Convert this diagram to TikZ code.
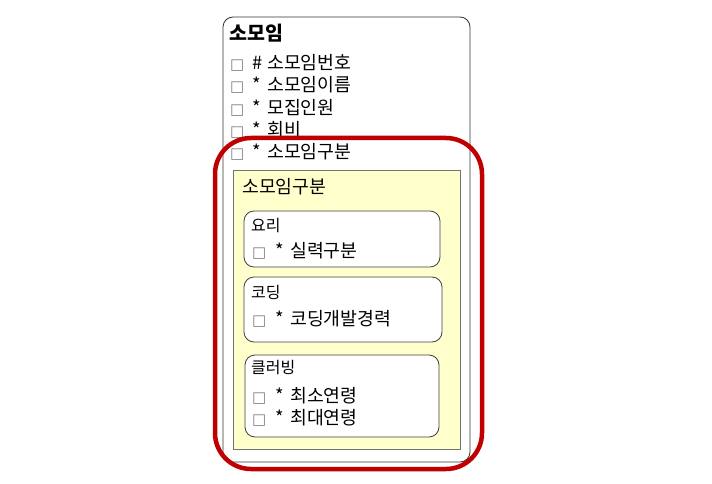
\documentclass[tikz,border=0pt]{standalone}
\usepackage{fontspec}
\setmainfont{Noto Sans CJK KR}
\newfontfamily\symfont{DejaVu Sans}
\definecolor{hlred}{HTML}{C00000}
\definecolor{paleyel}{HTML}{FFFFCC}
\newcommand{\chkbox}[1]{\makebox[#1pt][l]{\symfont\fontsize{15}{15}\selectfont\color{gray}□}}
\begin{document}
\begin{tikzpicture}[x=1pt,y=-1pt,
  boxbase/.style={inner sep=0pt, anchor=center},
  entity/.style={boxbase, draw=black!80, line width=0.8pt, rounded corners=10pt, fill=white},
  group/.style={boxbase, draw=black!55, line width=0.8pt, fill=paleyel},
  variant/.style={boxbase, draw=black!75, line width=0.8pt, rounded corners=10pt, fill=white},
  highlight/.style={boxbase, draw=hlred, line width=4.5pt, rounded corners=36pt},
  txt/.style={anchor=west, inner sep=0pt, font=\fontsize{18.3}{20}\selectfont},
  vtxt/.style={anchor=west, inner sep=0pt, font=\fontsize{16}{18}\selectfont},
  ttl/.style={anchor=west, inner sep=0pt, font=\fontsize{19.5}{21}\selectfont\bfseries},
  ]
\useasboundingbox (0,0) rectangle (712,484);
\fill[white] (0,0) rectangle (712,484);
% outer entity box
\node[entity, minimum width=247pt, minimum height=445pt] (ent) at (346.5,239.5) {};
\node[ttl] (title) at (229,33) {소모임};
\node[txt] (a1) at (230,63) {\chkbox{22}\makebox[15pt][l]{\#}소모임번호};
\node[txt] (a2) at (230,85) {\chkbox{22}\makebox[15pt][l]{*}소모임이름};
\node[txt] (a3) at (230,108) {\chkbox{22}\makebox[15pt][l]{*}모집인원};
\node[txt] (a4) at (230,130) {\chkbox{22}\makebox[15pt][l]{*}회비};
\node[txt] (a5) at (230,152) {\chkbox{22}\makebox[15pt][l]{*}소모임구분};
% yellow group
\node[group, minimum width=227pt, minimum height=279pt] (grp) at (346.5,309.5) {};
\node[txt] (gt) at (242,187) {소모임구분};
% variant 요리
\node[variant, minimum width=196pt, minimum height=56pt] (v1) at (342,239) {};
\node[vtxt] (v1t) at (251,226) {요리};
\node[txt] (v1a) at (252,251) {\chkbox{23}\makebox[15pt][l]{*}실력구분};
% variant 코딩
\node[variant, minimum width=198pt, minimum height=65pt] (v2) at (343,309.5) {};
\node[vtxt] (v2t) at (251,292) {코딩};
\node[txt] (v2a) at (252,319) {\chkbox{23}\makebox[15pt][l]{*}코딩개발경력};
% variant 클러빙
\node[variant, minimum width=194pt, minimum height=82pt] (v3) at (342,396) {};
\node[vtxt] (v3t) at (251,368) {클러빙};
\node[txt] (v3a) at (252,396) {\chkbox{23}\makebox[15pt][l]{*}최소연령};
\node[txt] (v3b) at (252,418) {\chkbox{23}\makebox[15pt][l]{*}최대연령};
% red highlight
\node[highlight, minimum width=267pt, minimum height=331pt] (hl) at (348.5,303.5) {};
\end{tikzpicture}
\end{document}
